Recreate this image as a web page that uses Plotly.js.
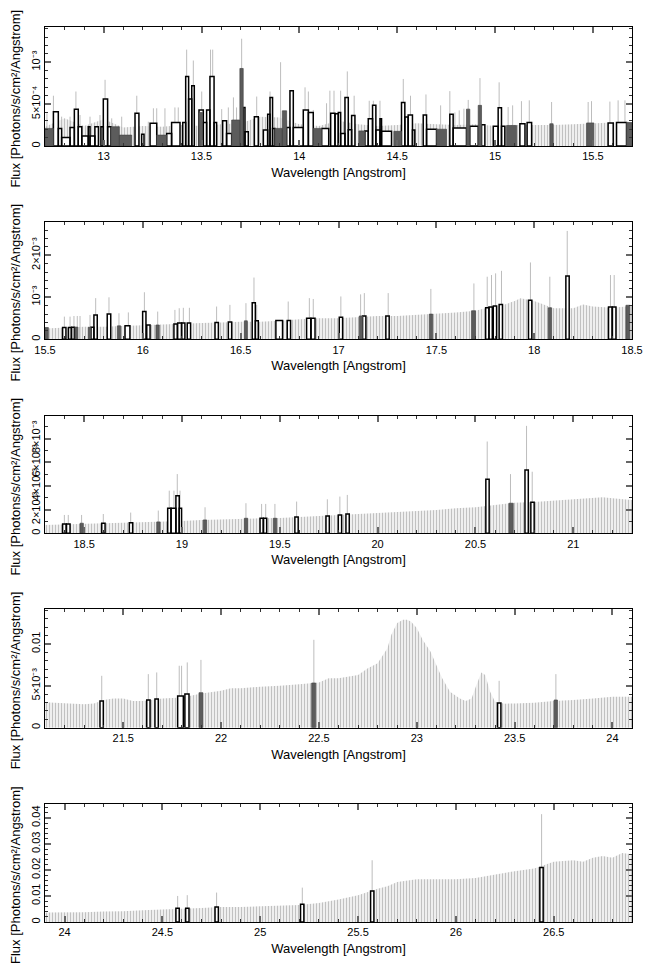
<!DOCTYPE html>
<html>
<head>
<meta charset="utf-8">
<script src="https://cdn.plot.ly/plotly-3.0.1.min.js"></script>
<style>html,body{margin:0;padding:0;background:#fff;}#chart{width:653px;height:972px;}</style>
</head>
<body>
<div id="chart"></div>
<script>
// ---------------- DATA ----------------
const xTitle = 'Wavelength [Angstrom]';
const yTitle = 'Flux [Photons/s/cm\u00b2/Angstrom]';

// Panel ranges (Angstrom) and flux tops
const xRanges = [[12.7, 15.7], [15.5, 18.5], [18.3, 21.3], [21.1, 24.1], [23.9, 26.9]];
const yTops = [0.00142, 0.0028, 0.00993, 0.01418, 0.0453];

// Tick labels
const yTickVals = [
  [0, 0.0005, 0.001],
  [0, 0.001, 0.002],
  [0, 0.002, 0.004, 0.006, 0.008],
  [0, 0.005, 0.01],
  [0, 0.01, 0.02, 0.03, 0.04]
];
const yTickText = [
  ['0', '5\u00d710\u207b\u2074', '10\u207b\u00b3'],
  ['0', '10\u207b\u00b3', '2\u00d710\u207b\u00b3'],
  ['0', '2\u00d710\u207b\u00b3', '4\u00d710\u207b\u00b3', '6\u00d710\u207b\u00b3', '8\u00d710\u207b\u00b3'],
  ['0', '5\u00d710\u207b\u00b3', '0.01'],
  ['0', '0.01', '0.02', '0.03', '0.04']
];
const yMinor = [0.0001, 0.0002, 0.001, 0.001, 0.002];

// Units of the value arrays below
const units = [1e-4, 1e-4, 1e-3, 1e-3, 1e-3];

// ---- Panel 1 ----
const p1ContX = [12.70,12.80,12.90,13.00,13.10,13.20,13.30,13.40,13.50,13.60,13.70,13.80,13.90,14.00,14.10,14.20,14.30,14.40,14.50,14.60,14.70,14.80,14.90,15.00,15.10,15.20,15.30,15.40,15.50,15.60,15.70];
const p1ContY = [2.3,3.3,2.4,3.2,2.2,2.4,2.3,2.5,2.4,2.6,2.7,3.5,3.4,2.6,2.4,3.0,2.6,2.4,2.5,2.7,2.6,2.5,2.6,2.4,2.5,2.5,2.5,2.6,2.7,2.8,2.8];
const p1ALo = [12.743,12.768,12.785,12.828,12.850,12.870,12.888,12.921,12.930,12.955,12.986,12.998,13.020,13.160,13.194,13.237,13.322,13.347,13.404,13.419,13.434,13.450,13.487,13.509,13.526,13.543,13.564,13.608,13.628,13.713,13.722,13.770,13.816,13.838,13.850,13.863,13.935,13.952,13.969,14.020,14.046,14.114,14.160,14.182,14.199,14.211,14.233,14.250,14.267,14.335,14.352,14.374,14.391,14.412,14.420,14.522,14.539,14.556,14.578,14.633,14.650,14.769,14.786,14.871,14.931,14.991,15.016,15.033,15.127,15.164,15.578,15.621];
const p1AHi = [12.768,12.785,12.828,12.850,12.870,12.888,12.921,12.930,12.955,12.973,12.998,13.020,13.037,13.180,13.206,13.271,13.347,13.390,13.419,13.434,13.450,13.463,13.509,13.526,13.543,13.564,13.577,13.628,13.654,13.722,13.739,13.790,13.838,13.850,13.863,13.875,13.952,13.969,14.020,14.046,14.071,14.150,14.182,14.199,14.211,14.233,14.250,14.267,14.284,14.352,14.374,14.391,14.412,14.420,14.471,14.539,14.556,14.578,14.590,14.650,14.701,14.786,14.854,14.914,14.948,15.016,15.033,15.050,15.153,15.187,15.604,15.672];
const p1AVal = [4.1,2.1,1.0,2.2,4.4,2.3,1.2,2.3,1.2,2.3,2.3,5.6,2.3,3.9,1.4,2.7,1.5,2.8,2.8,8.3,5.6,7.2,4.3,2.8,4.3,8.3,2.8,3.0,1.5,4.6,1.7,3.5,1.9,3.8,5.8,2.1,2.2,6.6,2.2,4.3,4.0,2.1,3.9,3.85,4.0,1.5,5.8,1.95,3.65,1.8,3.25,4.85,1.9,3.25,1.75,5.2,3.45,3.7,1.9,3.7,2.0,3.8,2.15,2.35,2.55,2.35,4.55,2.35,2.65,2.8,2.75,2.8];
const p1BLo = [12.700,13.037,13.080,13.271,13.487,13.654,13.696,13.875,13.913,14.071,14.304,14.483,14.701,14.854,14.914,15.059,15.280,15.468,15.672];
const p1BHi = [12.743,13.080,13.143,13.322,13.505,13.696,13.713,13.913,13.935,14.114,14.335,14.522,14.752,14.871,14.931,15.110,15.297,15.505,15.700];
const p1BVal = [2.1,2.3,1.3,1.3,4.0,3.1,9.25,2.1,4.2,2.1,1.8,1.75,2.0,4.4,4.85,2.45,2.65,2.75,2.8];
const p1ErrX = [12.710,12.743,12.785,12.828,12.858,12.879,12.930,12.981,13.007,13.041,13.092,13.169,13.228,13.254,13.271,13.313,13.364,13.381,13.424,13.458,13.501,13.546,13.557,13.603,13.637,13.663,13.679,13.705,13.782,13.850,13.904,13.952,14.029,14.046,14.071,14.139,14.156,14.177,14.211,14.245,14.280,14.357,14.378,14.412,14.531,14.568,14.647,14.722,14.769,14.795,14.817,14.841,14.863,14.923,15.021,15.067,15.090,15.135,15.175,15.289,15.476,15.493,15.587,15.629,15.664];
const p1ErrHi = [3.9,6.0,3.5,3.5,6.5,3.7,3.5,3.7,7.9,3.3,3.5,6.0,2.9,4.5,4.5,4.5,4.6,4.6,11.5,10.2,6.5,11.5,11.5,4.4,4.6,5.8,4.6,12.8,5.9,6.5,10.0,6.6,7.0,6.5,4.3,5.1,6.6,6.6,6.6,8.9,6.0,5.4,5.4,5.4,8.0,6.0,6.15,4.85,6.55,4.0,4.25,4.45,5.5,8.1,7.6,4.65,4.85,5.35,5.45,5.25,5.25,5.35,5.3,5.45,5.45];

// ---- Panel 2 ----
const p2ContX = [15.5,15.6,15.7,15.8,15.9,16.0,16.1,16.2,16.3,16.4,16.5,16.6,16.7,16.8,16.9,17.0,17.1,17.2,17.3,17.4,17.5,17.6,17.7,17.75,17.8,17.85,17.9,17.93,18.0,18.05,18.1,18.2,18.25,18.3,18.4,18.5];
const p2ContY = [2.6,2.8,3.0,3.0,3.2,3.4,3.6,3.8,3.9,4.0,4.2,4.2,4.4,4.8,5.0,5.0,5.3,5.55,5.55,5.8,6.2,6.4,6.8,7.4,7.8,8.3,9.1,9.8,9.1,8.2,7.4,7.4,8.3,7.8,7.5,7.9];
const p2ALo = [15.590,15.620,15.636,15.735,15.750,15.818,15.909,15.999,16.020,16.159,16.178,16.198,16.227,16.369,16.437,16.559,16.575,16.680,16.738,16.837,16.860,17.004,17.123,17.242,17.752,17.769,17.791,17.821,17.971,18.162,18.380,18.400];
const p2AHi = [15.607,15.634,15.650,15.750,15.767,15.836,15.934,16.016,16.037,16.176,16.198,16.215,16.244,16.386,16.454,16.575,16.590,16.714,16.755,16.858,16.880,17.021,17.140,17.259,17.769,17.786,17.808,17.838,17.988,18.179,18.398,18.418];
const p2AVal = [2.8,2.8,2.85,2.85,5.8,6.0,3.2,6.6,3.4,3.65,3.9,3.9,3.9,4.0,4.1,8.7,4.4,4.5,4.5,5.0,5.0,5.25,5.55,5.55,7.5,7.7,7.9,8.3,9.3,15.1,7.7,7.7];
const p2BLo = [15.500,15.653,15.721,15.870,16.067,16.519,17.106,17.464,17.680,18.072,18.469];
const p2BHi = [15.517,15.668,15.735,15.887,16.084,16.534,17.123,17.481,17.700,18.089,18.489];
const p2BVal = [2.8,2.9,2.85,3.2,3.4,4.4,5.55,6.0,6.8,7.5,8.1];
const p2ErrX = [15.599,15.628,15.648,15.665,15.679,15.730,15.759,15.827,15.878,15.926,16.008,16.076,16.164,16.186,16.207,16.238,16.377,16.445,16.527,16.568,16.582,16.743,16.851,16.871,17.012,17.113,17.132,17.254,17.472,17.692,17.760,17.782,17.803,17.833,17.981,18.080,18.169,18.390,18.409];
const p2ErrHi = [5.4,5.4,5.55,5.55,5.55,5.8,9.8,10.0,6.2,6.4,11.2,6.6,7.0,7.4,7.5,7.5,7.8,8.2,8.6,14.7,8.2,9.0,9.8,9.6,10.2,10.7,11.0,11.0,12.0,13.3,14.9,15.3,15.7,16.3,18.3,14.9,25.8,15.3,15.3];

// ---- Panel 3 ----
const p3ContX = [18.3,18.4,18.5,18.6,18.7,18.8,18.9,19.0,19.1,19.2,19.3,19.4,19.5,19.6,19.7,19.8,19.9,20.0,20.1,20.2,20.3,20.4,20.5,20.6,20.7,20.8,20.9,21.0,21.1,21.15,21.2,21.3];
const p3ContY = [0.70,0.76,0.85,0.85,0.90,0.93,0.99,1.04,1.13,1.18,1.27,1.27,1.30,1.35,1.46,1.55,1.63,1.77,1.83,1.89,1.97,2.11,2.20,2.39,2.59,2.65,2.76,2.87,2.93,3.04,2.96,2.82];
const p3ALo = [18.390,18.410,18.590,18.731,18.927,18.944,18.969,18.986,19.399,19.417,19.577,19.736,19.799,19.838,20.553,20.753,20.783];
const p3AHi = [18.408,18.428,18.607,18.748,18.944,18.969,18.986,18.998,19.415,19.433,19.594,19.753,19.816,19.855,20.570,20.770,20.800];
const p3AVal = [0.79,0.79,0.85,0.90,2.11,2.11,3.18,2.11,1.27,1.27,1.38,1.46,1.55,1.63,4.56,5.35,2.62];
const p3BLo = [18.479,18.871,19.109,19.319,19.467,20.671];
const p3BHi = [18.496,18.888,19.126,19.336,19.484,20.693];
const p3BVal = [0.85,0.96,1.13,1.27,1.27,2.54];
const p3ErrX = [18.399,18.419,18.487,18.598,18.738,18.879,18.935,18.959,18.976,18.990,19.118,19.327,19.407,19.428,19.475,19.586,19.743,19.807,19.845,20.560,20.679,20.761,20.790];
const p3ErrHi = [1.55,1.55,1.55,1.63,1.75,1.92,3.6,3.6,5.0,3.6,2.2,2.54,2.48,2.48,2.48,2.68,2.87,3.1,3.24,7.75,5.0,9.07,5.2];

// ---- Panel 4 ----
const p4ContX = [21.1,21.2,21.3,21.35,21.4,21.45,21.5,21.55,21.6,21.7,21.8,21.9,22.0,22.05,22.1,22.2,22.3,22.4,22.5,22.55,22.6,22.7,22.75,22.8,22.85,22.87,22.9,22.93,22.95,22.97,23.0,23.03,23.07,23.1,23.13,23.17,23.22,23.25,23.28,23.305,23.33,23.35,23.375,23.4,23.45,23.5,23.6,23.7,23.8,23.9,24.0,24.1];
const p4ContY = [3.03,2.9,2.79,2.9,3.3,3.5,3.5,3.2,3.19,3.5,3.6,4.1,4.4,4.7,4.7,4.9,5.0,5.2,5.4,5.9,5.9,6.3,7.1,7.7,9.5,11.1,12.5,12.9,12.9,12.7,11.9,10.5,9.1,7.5,5.9,4.3,3.5,3.19,3.5,5.1,6.6,6.3,4.3,3.1,2.87,2.9,2.99,3.19,3.3,3.5,3.7,3.7];
const p4ALo = [21.381,21.620,21.662,21.778,21.815,23.413];
const p4AHi = [21.398,21.637,21.679,21.807,21.836,23.430];
const p4AVal = [3.19,3.31,3.43,3.78,4.02,2.95];
const p4BLo = [21.887,22.463,23.702];
const p4BHi = [21.907,22.483,23.719];
const p4BVal = [4.18,5.34,3.31];
const p4ErrX = [21.390,21.628,21.671,21.786,21.798,21.827,21.897,22.474,23.421,23.711];
const p4ErrHi = [6.2,6.4,6.6,7.4,7.4,7.8,8.1,10.5,5.6,6.4];

// ---- Panel 5 ----
const p5ContX = [23.9,24.0,24.1,24.2,24.3,24.4,24.5,24.6,24.7,24.8,24.9,25.0,25.1,25.2,25.3,25.4,25.5,25.6,25.65,25.7,25.8,25.9,26.0,26.1,26.2,26.3,26.4,26.5,26.6,26.65,26.7,26.75,26.8,26.85,26.9];
const p5ContY = [3.6,3.6,3.7,4.0,4.1,4.5,4.9,5.1,5.4,5.8,5.8,6.0,6.2,6.5,7.3,8.6,10.3,12.8,13.7,15.4,16.4,16.3,16.4,16.9,18.2,19.5,20.5,23.1,23.7,23.1,24.7,25.3,24.7,26.5,26.0];
const p5ALo = [24.569,24.619,24.769,25.206,25.564,26.429];
const p5AHi = [24.586,24.636,24.786,25.223,25.581,26.446];
const p5AVal = [5.26,5.26,5.77,6.8,11.9,20.9];
const p5BLo = [];
const p5BHi = [];
const p5BVal = [];
const p5ErrX = [24.578,24.627,24.777,25.215,25.572,26.438];
const p5ErrHi = [10.0,10.3,11.3,13.2,23.7,41.4];

// ---------------- BUILD ----------------
const panels = [
  {cx:p1ContX, cy:p1ContY, aLo:p1ALo, aHi:p1AHi, aV:p1AVal, bLo:p1BLo, bHi:p1BHi, bV:p1BVal, ex:p1ErrX, eh:p1ErrHi},
  {cx:p2ContX, cy:p2ContY, aLo:p2ALo, aHi:p2AHi, aV:p2AVal, bLo:p2BLo, bHi:p2BHi, bV:p2BVal, ex:p2ErrX, eh:p2ErrHi},
  {cx:p3ContX, cy:p3ContY, aLo:p3ALo, aHi:p3AHi, aV:p3AVal, bLo:p3BLo, bHi:p3BHi, bV:p3BVal, ex:p3ErrX, eh:p3ErrHi},
  {cx:p4ContX, cy:p4ContY, aLo:p4ALo, aHi:p4AHi, aV:p4AVal, bLo:p4BLo, bHi:p4BHi, bV:p4BVal, ex:p4ErrX, eh:p4ErrHi},
  {cx:p5ContX, cy:p5ContY, aLo:p5ALo, aHi:p5AHi, aV:p5AVal, bLo:p5BLo, bHi:p5BHi, bV:p5BVal, ex:p5ErrX, eh:p5ErrHi}
];

function boxes(lo, hi, val, u) {
  const x = [], y = [];
  const n = Math.min(lo.length, hi.length, val.length);
  for (let i = 0; i < n; i++) {
    const v = val[i] * u;
    x.push(lo[i], lo[i], hi[i], hi[i], lo[i], null);
    y.push(0, v, v, 0, 0, null);
  }
  return {x, y};
}
function errLines(ex, eh, u) {
  const x = [], y = [];
  const n = Math.min(ex.length, eh.length);
  for (let i = 0; i < n; i++) {
    x.push(ex[i], ex[i], null);
    y.push(0, eh[i] * u, null);
  }
  return {x, y};
}

const FONT = 'Liberation Sans, Arial, Helvetica, sans-serif';
const data = [];
const annotations = [];
const layout = {
  width: 653, height: 972,
  margin: {l: 45, r: 21, t: 27, b: 50},
  paper_bgcolor: '#fff', plot_bgcolor: '#fff',
  showlegend: false,
  font: {family: FONT, size: 11, color: '#000'},
  annotations: annotations
};

// pixel-based domains (plot area is 27..922 px tall)
const panelTopPx = [27, 221.7, 415.7, 609, 804];
const panelBotPx = [146, 339.3, 533.3, 727.7, 922];
const plotTop = 27, plotBot = 922, plotH = plotBot - plotTop;

panels.forEach((p, k) => {
  const i = k + 1;
  const xa = 'x' + (i === 1 ? '' : i), ya = 'y' + (i === 1 ? '' : i);
  const u = units[k];
  // continuum / upper-limit band
  data.push({
    type: 'scatter', mode: 'lines', x: p.cx, y: p.cy.map(v => v * u),
    xaxis: xa, yaxis: ya, line: {width: 0, color: '#ececec'},
    fill: 'tozeroy', fillcolor: '#efefef',
    fillpattern: {shape: '|', fgcolor: '#bcbcbc', bgcolor: '#efefef', size: 3, solidity: 0.3},
    hoverinfo: 'skip'
  });
  // error bars
  const e = errLines(p.ex, p.eh, u);
  data.push({type: 'scatter', mode: 'lines', x: e.x, y: e.y, xaxis: xa, yaxis: ya,
    line: {color: '#bdbdbd', width: 1}, connectgaps: false, hoverinfo: 'skip'});
  // dataset A: open black bins
  const a = boxes(p.aLo, p.aHi, p.aV, u);
  data.push({type: 'scatter', mode: 'lines', x: a.x, y: a.y, xaxis: xa, yaxis: ya,
    fill: 'toself', fillcolor: '#ffffff', line: {color: '#000', width: 1.5},
    connectgaps: false, hoverinfo: 'skip'});
  // dataset B: dark grey filled bins
  const b = boxes(p.bLo, p.bHi, p.bV, u);
  data.push({type: 'scatter', mode: 'lines', x: b.x, y: b.y, xaxis: xa, yaxis: ya,
    fill: 'toself', fillcolor: '#5c5c5c', line: {color: '#484848', width: 0.7},
    connectgaps: false, hoverinfo: 'skip'});

  const dom = [(plotBot - panelBotPx[k]) / plotH, (plotBot - panelTopPx[k]) / plotH];
  layout['xaxis' + (i === 1 ? '' : i)] = {
    domain: [0, 1], anchor: ya, range: xRanges[k],
    tickmode: 'linear', tick0: 0, dtick: 0.5,
    ticks: 'inside', ticklen: 6, tickwidth: 2, tickcolor: '#666',
    minor: {tickmode: 'linear', tick0: 0, dtick: 0.1, ticks: 'inside', ticklen: 3, tickwidth: 1, tickcolor: '#333'},
    showline: true, linecolor: '#000', linewidth: 1, mirror: 'allticks',
    showgrid: false, zeroline: false, automargin: false,
    tickfont: {size: 11, family: FONT},
    title: {text: xTitle, font: {size: 13, family: FONT}, standoff: 6}
  };
  layout['yaxis' + (i === 1 ? '' : i)] = {
    domain: dom, anchor: xa, range: [0, yTops[k]],
    tickmode: 'array', tickvals: yTickVals[k], ticktext: yTickText[k], tickangle: -90,
    ticks: 'inside', ticklen: 6, tickwidth: 2, tickcolor: '#666',
    minor: {tickmode: 'linear', tick0: 0, dtick: yMinor[k], ticks: 'inside', ticklen: 3, tickwidth: 1, tickcolor: '#333'},
    showline: true, linecolor: '#000', linewidth: 1, mirror: 'allticks',
    showgrid: false, zeroline: false, automargin: false,
    tickfont: {size: 11, family: FONT}
  };
  // y-axis title (placed as annotation so it can hang below the panel like the reference)
  annotations.push({
    text: yTitle, textangle: -90, showarrow: false,
    xref: 'paper', yref: 'paper', x: 0, y: (dom[0] + dom[1]) / 2,
    xanchor: 'center', yanchor: 'middle', xshift: -30, yshift: -12,
    font: {size: 13, family: FONT, color: '#000'}
  });
});

Plotly.newPlot('chart', data, layout, {staticPlot: true, displayModeBar: false});
</script>
</body>
</html>
